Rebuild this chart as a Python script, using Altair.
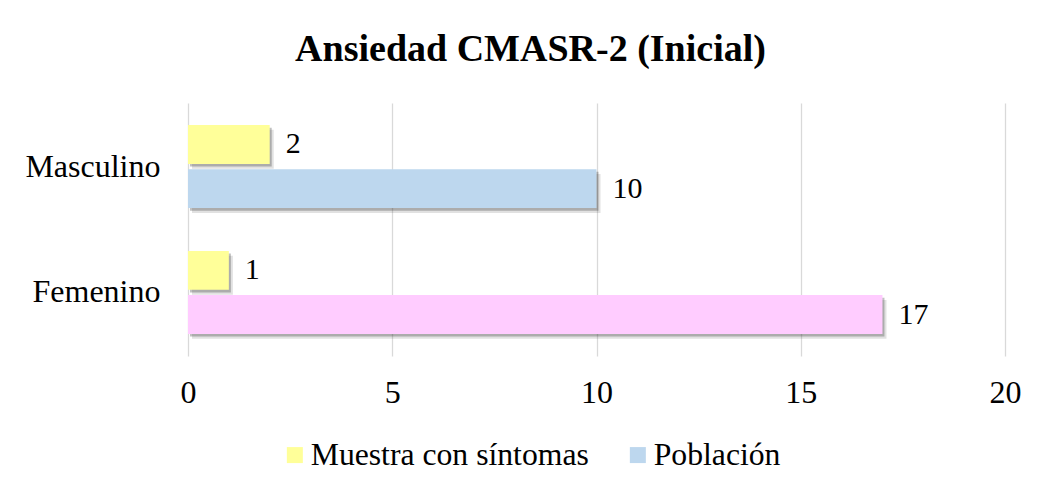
import altair as alt
import pandas as pd

# ---- data ----
categorias = ["Masculino", "Masculino", "Femenino", "Femenino"]
series = ["Muestra con síntomas", "Población", "Muestra con síntomas", "Población"]
valores = [2, 10, 1, 17]
tonos = ["Muestra con síntomas", "Población", "Muestra con síntomas", "Población femenina"]
orden_sexo = ["Masculino", "Femenino"]
orden_serie = ["Muestra con síntomas", "Población"]
ticks_x = [0, 5, 10, 15, 20]
titulo = "Ansiedad CMASR-2 (Inicial)"

df = pd.DataFrame({"sexo": categorias, "serie": series, "valor": valores, "tono": tonos})

FONT = "Liberation Serif"
P_IN, P_OUT = 0.34, 0.175


def y_enc(align=0.5, axis=True):
    ax = alt.Axis(labelFont=FONT, labelFontSize=32, labelColor="black", ticks=False,
                  domain=False, labelPadding=28, minExtent=180, maxExtent=180, grid=False) if axis else None
    return alt.Y("sexo:N", sort=orden_sexo, title=None,
                 scale=alt.Scale(paddingInner=P_IN, paddingOuter=P_OUT, align=align),
                 axis=ax)


yoff = alt.YOffset("serie:N", sort=orden_serie, scale=alt.Scale(paddingInner=0.12))
x_enc = alt.X(
    "valor:Q", title=None, scale=alt.Scale(domain=[0, 20]),
    axis=alt.Axis(values=ticks_x, labelFont=FONT, labelFontSize=32, labelColor="black",
                  ticks=False, domain=False, grid=True, gridColor="#d9d9d9", gridWidth=1.3,
                  labelPadding=21, labelFlush=False),
)

base = alt.Chart(df)

# soft drop shadow (shifted through the band scale's alignment)
shadow_far = base.mark_bar(color="#333333", opacity=0.15, xOffset=4).encode(
    y=y_enc(0.61, False), yOffset=yoff, x=x_enc)
shadow_near = base.mark_bar(color="#333333", opacity=0.3, xOffset=2).encode(
    y=y_enc(0.56, False), yOffset=yoff, x=x_enc)

bars = base.mark_bar().encode(
    y=y_enc(), yOffset=yoff, x=x_enc,
    color=alt.Color(
        "tono:N",
        scale=alt.Scale(domain=["Muestra con síntomas", "Población", "Población femenina"],
                        range=["#FFFF99", "#BDD7EE", "#FFCCFF"]),
        legend=alt.Legend(values=orden_serie, title=None, orient="none", direction="horizontal",
                          legendX=91, legendY=336, labelFont=FONT, labelFontSize=31.7,
                          labelColor="black", labelLimit=0, symbolType="square", symbolSize=256,
                          symbolStrokeWidth=0, symbolOpacity=1, columnPadding=33, labelOffset=0),
    ),
)
labels = base.mark_text(align="left", baseline="middle", dx=16, font=FONT, fontSize=30,
                        color="black").encode(y=y_enc(0.5, False), yOffset=yoff, x=x_enc,
                                              text="valor:Q")

chart = (
    alt.layer(shadow_far, shadow_near, bars, labels)
    .resolve_scale(y="independent")
    .properties(
        width=817, height=253, background="white",
        title=alt.TitleParams(titulo, font=FONT, fontSize=38, fontWeight="bold", color="black",
                              anchor="middle", frame="bounds", offset=34, dx=16),
        padding={"left": 0, "top": 23, "right": 0, "bottom": 10},
    )
    .configure_view(stroke="transparent", strokeWidth=0)
)

chart.save("out.html", embed_options={"renderer": "svg", "actions": False})
